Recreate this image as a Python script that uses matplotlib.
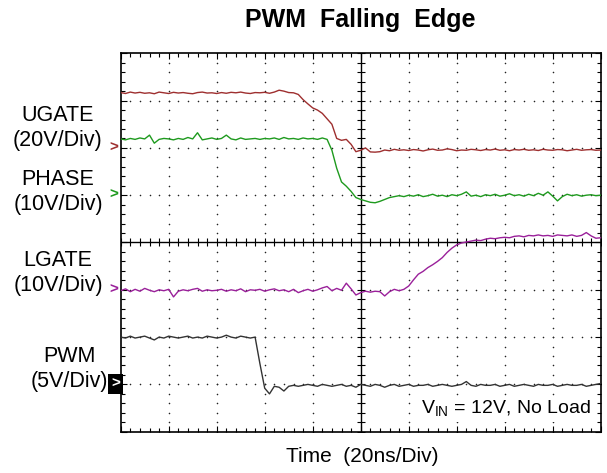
import numpy as np
import matplotlib.pyplot as plt

plt.rcParams['font.family'] = ['Liberation Sans', 'DejaVu Sans']
plt.rcParams['mathtext.fontset'] = 'custom'
plt.rcParams['mathtext.rm'] = 'Liberation Sans'

# time axis: 2 ns per sample, 20 ns/div, 10 divisions
t_ns = np.arange(0, 201, 2)

# scope traces in volts
ugate_v = [23.4, 23.0, 23.6, 23.2, 23.5, 23.1, 23.3, 22.9, 23.6, 23.3,
           23.0, 23.5, 23.2, 23.4, 23.1, 22.9, 23.4, 23.6, 23.2, 23.3,
           23.0, 23.4, 23.1, 23.5, 23.3, 23.6, 23.2, 23.0, 23.4, 23.3,
           23.5, 23.1, 23.6, 24.4, 24.0, 23.4, 23.3, 22.6, 20.4, 18.6,
           16.9, 16.0, 14.6, 12.3, 10.0, 4.0, 3.2, 3.6, 1.5, -1.6,
           -1.0, 0.0, -1.7, -1.8, -1.6, -0.9, -1.2, -0.6, -1.0, -0.8,
           -1.1, -0.7, -0.9, -1.3, -0.8, -0.5, -1.0, -0.9, -0.4, -0.7,
           -1.2, -0.9, -1.0, -0.6, -0.8, -1.1, -0.7, -0.9, -0.5, -1.0,
           -0.8, -1.2, -0.7, -0.9, -0.6, -1.0, -0.8, -1.1, -0.6, -0.9,
           -1.0, -0.7, -0.8, -1.2, -0.9, -0.6, -1.0, -0.8, -0.7, -1.0,
           -0.9]
phase_v = [11.9, 11.7, 12.0, 11.8, 12.1, 11.9, 12.7, 11.0, 11.8, 12.0,
           11.9, 11.7, 12.0, 11.8, 12.2, 11.9, 13.2, 11.7, 11.9, 12.1,
           11.8, 12.0, 12.7, 11.9, 11.7, 12.1, 11.8, 11.9, 12.0, 11.8,
           12.0, 11.9, 12.1, 11.8, 12.2, 11.9, 12.0, 11.8, 12.1, 11.9,
           12.0, 11.8, 12.1, 11.8, 9.5, 5.7, 2.8, 1.9, 0.8, -0.5,
           -0.9, -1.2, -1.5, -1.6, -1.3, -0.9, -0.5, -0.3, -0.1, -0.3,
           0.0, -0.2, 0.1, -0.3, -0.1, 0.2, -0.2, 0.0, -0.3, 0.1,
           -0.1, 0.2, 0.7, -0.2, 0.0, -0.3, 0.1, -0.1, 0.2, -0.2,
           0.0, 0.3, -0.1, 0.1, -0.2, 0.2, -0.1, 0.4, 0.0, 0.7,
           -0.2, -1.2, -0.3, 0.2, -0.1, 0.1, -0.2, 0.0, 0.1, -0.1,
           0.0]
lgate_v = [-0.2, 0.2, -0.4, 0.1, -0.3, 0.3, -0.1, -0.4, 0.0, -0.2,
           0.1, -1.5, -0.3, 0.0, -0.2, 0.1, 0.3, -0.3, 0.0, -0.2,
           -0.1, 0.1, -0.3, 0.0, -0.2, 0.2, -0.4, 0.0, -0.1, 0.1,
           -0.3, 0.0, 0.2, -0.2, 0.0, -0.4, 0.1, -0.6, -0.2, 0.1,
           -0.3, 0.0, 0.4, 0.7, -0.2, 0.3, -0.1, 1.4, 0.2, -1.1,
           -0.6, -0.3, -0.5, -0.3, -0.4, -1.3, -0.4, 0.1, -0.2, 0.1,
           0.8, 2.1, 3.3, 3.9, 4.7, 5.3, 6.0, 6.8, 7.9, 8.8,
           9.5, 9.9, 10.1, 10.3, 10.5, 10.4, 10.7, 10.9, 10.8, 11.0,
           11.1, 11.0, 11.3, 11.4, 11.2, 11.5, 11.4, 11.6, 11.4, 11.5,
           11.3, 11.6, 11.5, 11.4, 11.6, 11.3, 11.5, 12.1, 11.4, 10.9,
           11.0]
pwm_v = [5.0, 4.9, 5.1, 4.9, 5.0, 5.1, 4.9, 4.7, 5.0, 4.9,
         5.1, 5.0, 4.9, 5.0, 5.1, 4.9, 5.0, 4.9, 5.1, 5.0,
         4.9, 5.0, 5.2, 5.0, 4.9, 5.1, 5.0, 4.9, 5.0, 2.2,
         -0.4, -1.0, -0.2, -0.3, -0.7, -0.2, -0.1, -0.2, -0.1, 0.0,
         -0.1, -0.2, 0.0, -0.1, -0.2, -0.1, 0.0, -0.2, -0.1, -0.3,
         0.0, -0.1, -0.2, 0.0, -0.1, -0.3, -0.1, 0.0, -0.2, -0.1,
         0.0, -0.2, -0.1, -0.1, 0.0, -0.2, -0.1, 0.0, -0.1, -0.2,
         -0.1, 0.0, 0.3, -0.1, -0.2, 0.0, -0.1, -0.1, 0.0, -0.2,
         -0.1, 0.0, -0.2, -0.1, 0.0, -0.1, -0.2, 0.0, -0.1, -0.1,
         0.0, -0.2, -0.1, 0.0, -0.1, -0.1, 0.0, -0.2, -0.1, 0.0,
         0.1]

names = ['UGATE', 'PHASE', 'LGATE', 'PWM']
volts_per_div = [20, 10, 10, 5]
ground_div = [6, 5, 3, 1]
colors = ['#9e2f2f', '#1e9a1e', '#9a209a', '#333333']
waves = [ugate_v, phase_v, lgate_v, pwm_v]

W, H = 607, 473
fig = plt.figure(figsize=(W / 100, H / 100), dpi=100)
ax = fig.add_axes([120.7 / W, 1 - 431.7 / H, 480 / W, 378.4 / H])
ax.set_xlim(0, 10)
ax.set_ylim(0, 8)

# dotted graticule
steps_x = np.arange(0, 10.001, 0.2)
steps_y = np.arange(0, 8.001, 0.2)
for k in range(1, 10):
    if k != 5:
        ax.scatter(np.full(len(steps_y), k), steps_y, s=1.3, color='#222222', lw=0, zorder=1)
for k in range(1, 8):
    if k != 4:
        ax.scatter(steps_x, np.full(len(steps_x), k), s=1.3, color='#222222', lw=0, zorder=1)

# centre cross with ticks
ax.axvline(5, color='black', lw=1.0, zorder=2)
ax.axhline(4, color='black', lw=1.0, zorder=2)
ax.plot(steps_x, np.full(len(steps_x), 4), ls='none', marker='|', ms=6, mew=0.8, color='black', zorder=2)
ax.plot(np.full(len(steps_y), 5), steps_y, ls='none', marker='_', ms=6, mew=0.8, color='black', zorder=2)

for v, vd, g, c in zip(waves, volts_per_div, ground_div, colors):
    ax.plot(t_ns / 20, g + np.array(v) / vd, color=c, lw=1.0, zorder=3)

ax.set_xticks(range(11))
ax.set_yticks(range(9))
ax.set_xticks(steps_x, minor=True)
ax.set_yticks(steps_y, minor=True)
ax.tick_params(which='both', direction='in', top=True, right=True,
               labelbottom=False, labelleft=False, width=0.8, color='black')
ax.tick_params(which='major', length=4.5)
ax.tick_params(which='minor', length=3)
for sp in ax.spines.values():
    sp.set_linewidth(1.2)

# channel labels and ground markers
label_pos = [(58, 128), (58, 192), (58, 273), (69, 369)]
label_txt = ['UGATE\n(20V/Div)', 'PHASE\n(10V/Div)', 'LGATE\n(10V/Div)', 'PWM\n(5V/Div)']
for (px, py), txt in zip(label_pos, label_txt):
    fig.text(px / W, 1 - py / H, txt, ha='center', va='center', fontsize=15.5, linespacing=1.2)

for g, c, n in zip(ground_div, colors, names):
    if n == 'PWM':
        ax.text(-0.11, g, '>', color='white', fontsize=11, fontweight='bold', ha='center', va='center',
                clip_on=False, bbox=dict(boxstyle='square,pad=0.2', fc='black', ec='none'))
    else:
        ax.text(-0.15, g, '>', color=c, fontsize=11, fontweight='bold', ha='center', va='center', clip_on=False)

ax.text(9.8, 0.48, r'V$_{\rm IN}$ = 12V, No Load', ha='right', va='center', fontsize=14, zorder=5,
        bbox=dict(boxstyle='square,pad=0.15', fc='white', ec='none'))

fig.text(360.7 / W, 1 - 20 / H, 'PWM  Falling  Edge', ha='center', va='center', fontsize=18, fontweight='bold')
fig.text(362 / W, 1 - 456 / H, 'Time  (20ns/Div)', ha='center', va='center', fontsize=15)

plt.savefig('out.png', dpi=100)
